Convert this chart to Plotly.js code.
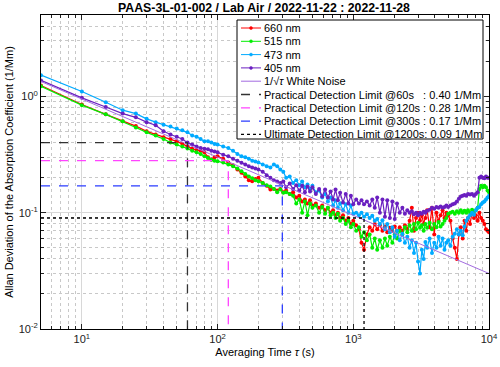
<!DOCTYPE html>
<html>
<head>
<meta charset="utf-8">
<script src="https://cdn.plot.ly/plotly-3.0.1.min.js"></script>
<style>body{margin:0;background:#fff}#chart{width:500px;height:367px}</style>
</head>
<body>
<div id="chart"></div>
<script>
// averaging times (s)
const tau = [5,10,15,20,25,30,35,40,45,50,55,60,65,70,75,80,85,90,95,100,
  110,120,130,140,150,160,170,180,190,200,
  215,230,245,260,275,290,305,320,340,360,380,400,420,440,460,480,500,
  530,560,590,620,650,680,710,740,770,800,840,880,920,960,1000,
  1050,1100,1150,1200,1260,1320,1380,1440,1500,1570,1640,1710,1780,1860,1940,2020,2100,2200,2300,2400,2500,
  2600,2700,2800,2900,3000,3100,3200,3300,3400,3500,3650,3800,3950,4100,4250,4400,4550,4700,4850,5000,
  5200,5400,5600,5800,6000,6200,6400,6600,6800,7000,7250,7500,7750,8000,8250,8500,8750,9000,9250,9500,9750,10000];

const adev660 = [1.24,0.85,0.70,0.61,0.555,0.50,0.47,0.445,0.43,0.41,0.39,0.37,0.355,0.345,0.34,0.33,0.30,0.286,0.30,0.305,
  0.29,0.27,0.255,0.235,0.22,0.205,0.19,0.186,0.195,0.20,
  0.18,0.17,0.158,0.16,0.155,0.16,0.15,0.155,0.145,0.15,0.135,0.14,0.125,0.13,0.12,0.128,0.115,
  0.12,0.11,0.115,0.105,0.11,0.10,0.105,0.095,0.10,0.09,0.095,0.085,0.09,0.08,0.085,
  0.078,0.072,0.055,0.048,0.065,0.075,0.07,0.08,0.072,0.078,0.07,0.076,0.068,0.074,0.07,0.076,0.07,0.075,0.07,0.078,0.072,
  0.085,0.11,0.07,0.09,0.10,0.085,0.095,0.08,0.09,0.105,0.075,0.11,0.065,0.10,0.085,0.095,0.105,0.09,0.10,0.095,
  0.085,0.06,0.05,0.04,0.065,0.075,0.06,0.085,0.07,0.09,0.08,0.10,0.09,0.095,0.085,0.10,0.09,0.085,0.08,0.072,0.07,0.068];

const adev515 = [1.22,0.84,0.70,0.61,0.54,0.49,0.46,0.43,0.40,0.385,0.37,0.356,0.34,0.33,0.32,0.306,0.295,0.285,0.28,0.277,
  0.27,0.26,0.25,0.24,0.227,0.215,0.205,0.198,0.19,0.186,
  0.18,0.172,0.168,0.16,0.15,0.158,0.148,0.15,0.145,0.14,0.12,0.13,0.10,0.125,0.095,0.12,0.11,
  0.115,0.10,0.112,0.098,0.11,0.095,0.10,0.09,0.098,0.085,0.09,0.08,0.085,0.075,0.08,
  0.07,0.075,0.062,0.068,0.058,0.065,0.05,0.06,0.048,0.058,0.05,0.06,0.052,0.062,0.055,0.065,0.06,0.07,0.065,0.075,0.068,
  0.078,0.07,0.08,0.072,0.082,0.074,0.078,0.07,0.08,0.074,0.082,0.072,0.08,0.075,0.083,0.076,0.08,0.085,0.09,0.098,
  0.10,0.102,0.098,0.103,0.10,0.105,0.10,0.104,0.10,0.105,0.10,0.106,0.102,0.105,0.11,0.16,0.17,0.165,0.17,0.165,0.155,0.15];

const adev473 = [1.52,1.10,0.89,0.76,0.71,0.64,0.60,0.57,0.55,0.53,0.51,0.49,0.46,0.45,0.43,0.41,0.41,0.40,0.39,0.385,
  0.37,0.36,0.34,0.32,0.305,0.30,0.29,0.28,0.275,0.27,
  0.26,0.25,0.245,0.26,0.25,0.235,0.225,0.20,0.205,0.18,0.19,0.172,0.185,0.165,0.175,0.16,0.17,
  0.15,0.155,0.135,0.145,0.125,0.135,0.115,0.128,0.11,0.12,0.105,0.118,0.10,0.115,0.098,
  0.10,0.095,0.10,0.092,0.097,0.09,0.094,0.085,0.088,0.08,0.086,0.072,0.08,0.068,0.075,0.062,0.07,0.058,0.066,0.055,0.062,
  0.05,0.058,0.045,0.055,0.038,0.03,0.048,0.04,0.056,0.05,0.06,0.045,0.055,0.05,0.062,0.052,0.06,0.048,0.055,0.058,
  0.052,0.062,0.066,0.072,0.065,0.07,0.064,0.076,0.085,0.09,0.095,0.10,0.096,0.105,0.11,0.112,0.118,0.122,0.125,0.13,0.135,0.14];

const adev405 = [1.37,0.97,0.81,0.71,0.66,0.60,0.565,0.50,0.47,0.45,0.43,0.40,0.385,0.37,0.36,0.355,0.35,0.34,0.335,0.33,
  0.315,0.305,0.29,0.28,0.268,0.26,0.25,0.245,0.24,0.235,
  0.225,0.21,0.20,0.19,0.185,0.18,0.185,0.165,0.178,0.16,0.172,0.155,0.17,0.15,0.168,0.152,0.165,
  0.145,0.16,0.138,0.158,0.135,0.152,0.13,0.158,0.128,0.148,0.122,0.145,0.12,0.14,0.118,
  0.13,0.12,0.128,0.118,0.125,0.115,0.13,0.11,0.135,0.10,0.13,0.092,0.128,0.09,0.125,0.088,0.12,0.10,0.11,0.098,0.105,
  0.10,0.103,0.097,0.10,0.095,0.10,0.098,0.102,0.10,0.104,0.106,0.11,0.108,0.112,0.11,0.113,0.11,0.112,0.115,0.112,
  0.115,0.118,0.12,0.125,0.132,0.138,0.14,0.142,0.14,0.145,0.143,0.145,0.14,0.145,0.15,0.20,0.205,0.20,0.198,0.205,0.20,0.20];

// 1/sqrt(tau) white noise reference, end points
const wnTau = [5, 10000];
const wnDev = [1.34, 0.030];

// detection limits
const limitTau = [60, 120, 300, 1200];
const limitDev = [0.40, 0.28, 0.17, 0.09];
const limitColor = ['#333333', '#ff44ff', '#2b3cff', '#000000'];
const limitDash = ['dash', 'dash', 'dash', 'dot'];

const seriesNames = ['660 nm', '515 nm', '473 nm', '405 nm'];
const seriesColor = ['#ff0000', '#00ee00', '#00aaff', '#6a1fc0'];
const seriesData = [adev660, adev515, adev473, adev405];

const legendText = ['660 nm', '515 nm', '473 nm', '405 nm', '1/\u221A<i>\u03C4</i> White Noise',
  'Practical Detection Limit @60s&nbsp;&nbsp;&nbsp;: 0.40 1/Mm',
  'Practical Detection Limit @120s : 0.28 1/Mm',
  'Practical Detection Limit @300s : 0.17 1/Mm',
  'Ultimate Detection Limit @1200s: 0.09 1/Mm'];

const xTickVals = [10, 100, 1000, 10000];
const xTickText = ['10<sup>1</sup>', '10<sup>2</sup>', '10<sup>3</sup>', '10<sup>4</sup>'];
const yTickVals = [0.01, 0.1, 1];
const yTickText = ['10<sup>-2</sup>', '10<sup>-1</sup>', '10<sup>0</sup>'];
const xMinor = [6,7,8,9,20,30,40,50,60,70,80,90,200,300,400,500,600,700,800,900,2000,3000,4000,5000,6000,7000,8000,9000];
const yMinor = [0.02,0.03,0.04,0.05,0.06,0.07,0.08,0.09,0.2,0.3,0.4,0.5,0.6,0.7,0.8,0.9,2,3,4,5];

const wnColor = '#a36be0';
const FONT = 'Liberation Sans, Arial, Helvetica, sans-serif';
const M = {l: 41, r: 11, t: 15, b: 38};
const W = 500, H = 367;
const pw = W - M.l - M.r, ph = H - M.t - M.b;
const px2x = px => (px - M.l) / pw;
const py2y = py => (H - M.b - py) / ph;

const traces = [];
seriesData.forEach((d, i) => {
  traces.push({x: tau, y: d, type: 'scatter', mode: 'lines+markers', name: seriesNames[i],
    line: {color: seriesColor[i], width: 1.2}, marker: {color: seriesColor[i], size: 4}});
});
traces.push({x: wnTau, y: wnDev, type: 'scatter', mode: 'lines', line: {color: wnColor, width: 1}});
limitTau.forEach((t, i) => {
  traces.push({x: [wnTau[0], t, t], y: [limitDev[i], limitDev[i], yTickVals[0]], type: 'scatter', mode: 'lines',
    line: {color: limitColor[i], width: 1.3, dash: limitDash[i]}});
});

// MATLAB style legend box
const shapes = [];
const annotations = [];
const lx0 = 237, lx1 = 483, ly0 = 20, ly1 = 139;
shapes.push({type: 'rect', xref: 'paper', yref: 'paper', x0: px2x(lx0), x1: px2x(lx1), y0: py2y(ly1), y1: py2y(ly0),
  fillcolor: '#ffffff', line: {color: '#000', width: 1}});
const legColors = seriesColor.concat([wnColor], limitColor);
const legDash = ['solid', 'solid', 'solid', 'solid', 'solid'].concat(limitDash);
legendText.forEach((txt, i) => {
  const cy = 28 + 13.3 * i;
  shapes.push({type: 'line', xref: 'paper', yref: 'paper', x0: px2x(241), x1: px2x(261), y0: py2y(cy), y1: py2y(cy),
    line: {color: legColors[i], width: i < 5 ? 1 : 1.3, dash: legDash[i]}});
  if (i < 4) {
    shapes.push({type: 'circle', xref: 'paper', yref: 'paper', x0: px2x(249.5), x1: px2x(252.5), y0: py2y(cy + 1.5), y1: py2y(cy - 1.5),
      fillcolor: legColors[i], line: {color: legColors[i], width: 0.5}});
  }
  annotations.push({xref: 'paper', yref: 'paper', x: px2x(263), y: py2y(cy), xanchor: 'left', yanchor: 'middle',
    text: txt, showarrow: false, borderpad: 0, font: {family: FONT, size: 11, color: '#000'}});
});

const axisCommon = {
  type: 'log', showline: true, linecolor: '#000', linewidth: 1, mirror: 'allticks',
  ticks: 'inside', ticklen: 5, tickcolor: '#222', tickmode: 'array',
  showgrid: true, gridcolor: '#d8d8d8', gridwidth: 1, zeroline: false,
  tickfont: {family: FONT, size: 11, color: '#222'}
};

const layout = {
  width: W, height: H, margin: M, showlegend: false,
  paper_bgcolor: '#fff', plot_bgcolor: '#fff',
  font: {family: FONT, size: 11, color: '#000'},
  title: {text: '<b>PAAS-3L-01-002 / Lab Air / 2022-11-22 : 2022-11-28</b>', x: 0.528, xanchor: 'center', y: 0.99, yanchor: 'top',
    font: {family: FONT, size: 12.3, color: '#000'}},
  xaxis: Object.assign({}, axisCommon, {
    range: [Math.log10(5), 4], tickvals: xTickVals, ticktext: xTickText,
    minor: {tickmode: 'array', tickvals: xMinor, ticks: 'inside', ticklen: 3, tickcolor: '#222',
      showgrid: true, gridcolor: '#c8c8c8', griddash: 'dot', gridwidth: 1},
    title: {text: 'Averaging Time <i>\u03C4</i> (s)', standoff: 4, font: {family: FONT, size: 11, color: '#000'}}
  }),
  yaxis: Object.assign({}, axisCommon, {
    range: [-2, Math.log10(5)], tickvals: yTickVals, ticktext: yTickText,
    minor: {tickmode: 'array', tickvals: yMinor, ticks: 'inside', ticklen: 3, tickcolor: '#222',
      showgrid: true, gridcolor: '#c8c8c8', griddash: 'dot', gridwidth: 1},
    title: {text: 'Allan Deviation of the Absorption Coefficient (1/Mm)', standoff: 2, font: {family: FONT, size: 11, color: '#000'}}
  }),
  shapes: shapes, annotations: annotations
};

Plotly.newPlot('chart', traces, layout, {staticPlot: true, displayModeBar: false});
</script>
</body>
</html>
